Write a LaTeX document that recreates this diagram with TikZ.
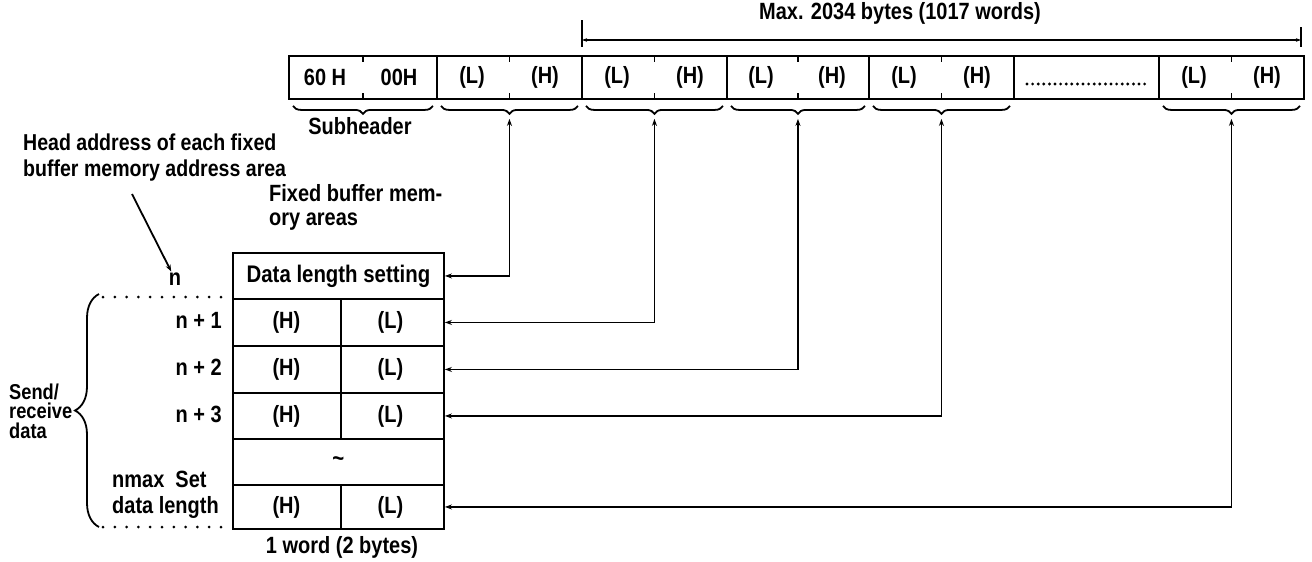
\documentclass[tikz,border=0pt]{standalone}
\usepackage{fontspec}
\setmainfont{Liberation Sans}[FakeStretch=0.85]
\usetikzlibrary{arrows.meta,decorations.pathreplacing}
\begin{document}
\begin{tikzpicture}[x=1pt,y=-1pt,
  txt/.style={font=\fontsize{23.5}{26}\selectfont\bfseries, inner sep=0pt},
  box/.style={draw, line width=1.9pt, inner sep=0pt, anchor=north west, font=\fontsize{24}{26}\selectfont\bfseries},
  tick/.style={line width=1.9pt},
  brc/.style={decorate, decoration={brace, mirror, amplitude=8pt}, line width=1.8pt},
  lbrc/.style={decorate, decoration={brace, amplitude=24pt}, line width=1.8pt},
  dotline/.style={line width=3pt, line cap=round, dash pattern=on 0pt off 11.8pt},
  conn/.style={line width=1.8pt, {Stealth[length=7pt,width=5pt]}-{Stealth[length=7pt,width=5pt]}},
  onearrow/.style={line width=1.8pt, -{Stealth[length=7pt,width=5pt]}},
]
\useasboundingbox (0,0) rectangle (1312,562);

% ---------- top frame ----------
\node[box, minimum width=148pt, minimum height=43pt] (t1) at (288,55) {};
\node[box, minimum width=145pt, minimum height=43pt] (t2) at (436,55) {};
\node[box, minimum width=145pt, minimum height=43pt] (t3) at (581,55) {};
\node[box, minimum width=142pt, minimum height=43pt] (t4) at (726,55) {};
\node[box, minimum width=145pt, minimum height=43pt] (t5) at (868,55) {};
\node[box, minimum width=145pt, minimum height=43pt] (t6) at (1013,55) {};
\node[box, minimum width=145pt, minimum height=43pt] (t7) at (1158,55) {};

\foreach \c in {t1,t2,t3,t4,t5,t7} {
  \draw[tick] (\c.north) -- ++(0,7);
  \draw[tick] (\c.south) -- ++(0,-7);
}

\node[txt] (h60) at (325,77) {60 H};
\node[txt] (h00) at (399,77) {00H};
\node[txt] (a2l) at (472,77) {(L)};
\node[txt] (a2h) at (545,77) {(H)};
\node[txt] (a3l) at (617,77) {(L)};
\node[txt] (a3h) at (690,77) {(H)};
\node[txt] (a4l) at (761,77) {(L)};
\node[txt] (a4h) at (832,77) {(H)};
\node[txt] (a5l) at (904,77) {(L)};
\node[txt] (a5h) at (977,77) {(H)};
\node[txt] (a7l) at (1194,77) {(L)};
\node[txt] (a7h) at (1267,77) {(H)};

\draw[line width=3.2pt, line cap=round, dash pattern=on 0pt off 5.6pt] (1027,84) -- (1148,84);

% braces under top frame
\foreach \c in {t1,t2,t3,t4,t5,t7} {
  \draw[brc] ([xshift=5pt,yshift=-6pt]\c.south west) -- ([xshift=-5pt,yshift=-6pt]\c.south east);
  \coordinate (b\c) at ([yshift=-19pt]\c.south);
}

\node[txt] (sub) at (360,126) {Subheader};

% ---------- max length dimension ----------
\coordinate (m1) at (582,40);
\coordinate (m2) at (1301,40);
\draw[tick] (582,20) -- (582,47);
\draw[tick] (1301,27) -- (1301,47);
\draw[line width=1.8pt, {Stealth[length=5pt,width=3.5pt]}-{Stealth[length=5pt,width=3.5pt]}] (m1) -- (m2);
\node[txt] (max) at (900,13) {Max. 2034 bytes (1017 words)};

% ---------- fixed buffer memory ----------
\node[box, minimum width=211pt, minimum height=46pt] (r0) at (232,252) {Data length setting};
\node[box, minimum width=211pt, minimum height=47pt] (r1) at (232,298) {};
\node[box, minimum width=211pt, minimum height=47pt] (r2) at (232,345) {};
\node[box, minimum width=211pt, minimum height=46pt] (r3) at (232,392) {};
\node[box, minimum width=211pt, minimum height=46pt] (r4) at (232,438) {\textasciitilde};
\node[box, minimum width=211pt, minimum height=44pt] (r5) at (232,484) {};

\foreach \r in {r1,r2,r3,r5} {
  \draw[tick] ([xshift=2.5pt]\r.north) -- ([xshift=2.5pt]\r.south);
  \node[txt] at ([xshift=-52pt]\r.center) {(H)};
  \node[txt] at ([xshift=52pt]\r.center) {(L)};
}

\node[txt, anchor=east] (l1) at (222,320) {n +\ 1};
\node[txt, anchor=east] (l2) at (222,367) {n +\ 2};
\node[txt, anchor=east] (l3) at (222,414) {n +\ 3};
\node[txt, anchor=west, align=left, font=\fontsize{23.5}{26}\selectfont\bfseries] (lmax) at (112,495) {nmax\ \ Set\\data length};
\node[txt] (n) at (175,279) {n};

\node[txt, anchor=west, align=left, font=\fontsize{23}{26}\selectfont\bfseries] (head) at (23,158) {Head address of each fixed\\buffer memory address area};
\coordinate (hs) at (132,194);
\draw[onearrow, shorten >=1pt] (hs) -- (n);

\node[txt, anchor=west, align=left, font=\fontsize{23.5}{24}\selectfont\bfseries] (fixed) at (269,207) {Fixed buffer mem-\\ory areas};

\node[txt] (word) at (342,547) {1 word (2 bytes)};

% left brace and dotted limits
\draw[dotline] (103,297) -- (224,297);
\draw[dotline] (103,527) -- (224,527);
\draw[lbrc] (99,527) -- (99,294);
\node[txt, anchor=west, align=left, font=\fontsize{21.5}{19.5}\selectfont\bfseries] (send) at (9,411) {Send/\\receive\\data};

% ---------- connectors ----------
\draw[conn] (bt2) |- (r0.east);
\draw[conn] (bt3) |- (r1.east);
\draw[conn] (bt4) |- (r2.east);
\draw[conn] (bt5) |- (r3.east);
\draw[conn] (bt7) |- (r5.east);

\end{tikzpicture}
\end{document}
